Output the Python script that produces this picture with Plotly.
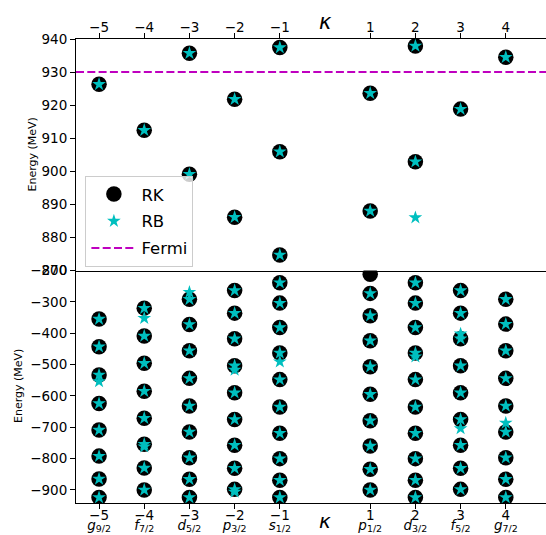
import plotly.graph_objects as go

# ---------------- data ----------------
KAPPAS = [-5, -4, -3, -2, -1, 1, 2, 3, 4]
KAPPA_LABELS = ["−5", "−4", "−3", "−2", "−1", "1", "2", "3", "4"]
ORBITAL_LABELS = ["<i>g</i><sub>9/2</sub>", "<i>f</i><sub>7/2</sub>", "<i>d</i><sub>5/2</sub>",
                  "<i>p</i><sub>3/2</sub>", "<i>s</i><sub>1/2</sub>", "<i>p</i><sub>1/2</sub>",
                  "<i>d</i><sub>3/2</sub>", "<i>f</i><sub>5/2</sub>", "<i>g</i><sub>7/2</sub>"]

RK_POSITIVE = [[926.3], [912.4], [935.7, 899.1], [921.8, 886.1], [937.4, 905.9, 874.7],
               [923.6, 888.0], [937.9, 902.9], [918.8], [934.5]]
RB_POSITIVE = [[926.3], [912.4], [935.7, 899.1], [921.8, 886.1], [937.4, 905.9, 874.7],
               [923.6, 888.0], [937.9, 902.9, 886.0], [918.8], [934.5]]

RK_NEGATIVE = [
    [-355, -443, -533, -624, -709, -792, -865, -924],
    [-320, -409, -496, -585, -671, -754, -830, -900],
    [-292, -372, -456, -544, -632, -715, -797, -866, -924],
    [-264, -336, -418, -504, -590, -675, -757, -831, -898],
    [-239, -304, -382, -463, -548, -635, -719, -800, -869, -924],
    [-212, -273, -344, -424, -507, -595, -679, -760, -834, -900],
    [-239, -304, -382, -463, -548, -635, -719, -800, -869, -924],
    [-264, -336, -418, -504, -590, -675, -757, -831, -898],
    [-292, -371, -456, -544, -632, -715, -797, -866, -924],
]
RB_NEGATIVE = [
    [-355, -443, -533, -554, -624, -709, -792, -865, -924],
    [-320, -352, -409, -496, -585, -671, -754, -762, -830, -900],
    [-269, -292, -372, -456, -544, -632, -715, -797, -866, -924],
    [-264, -336, -418, -504, -517, -590, -675, -757, -831, -898, -906],
    [-239, -304, -382, -463, -491, -548, -635, -719, -800, -869, -924],
    [-273, -344, -424, -507, -595, -679, -760, -834, -900],
    [-239, -304, -382, -463, -475, -548, -635, -719, -800, -869, -924],
    [-264, -336, -402, -418, -504, -590, -675, -704, -757, -831, -898],
    [-292, -371, -456, -544, -632, -686, -715, -797, -866, -924],
]

FERMI = 930.0
TOP_TICKS = [870, 880, 890, 900, 910, 920, 930, 940]
BOTTOM_TICKS = [-900, -800, -700, -600, -500, -400, -300, -200]


def flatten(levels):
    xs, ys = [], []
    for k, es in zip(KAPPAS, levels):
        for e in es:
            xs.append(k)
            ys.append(e)
    return xs, ys


# ---------------- styling ----------------
W, H = 546, 535
ML, MR, MT, MB = 76, 0, 39, 32
PW = W - ML - MR
PH = H - MT - MB
SPLIT = 232.5 / PH
XR = [-5.51, 4.89]
FONT = "DejaVu Sans"
BLACK_SIZE = 15.5
STAR_SIZE = 10.3
CYAN = "#00bfbf"
MAGENTA = "#bf00bf"

fig = go.Figure()

rk_tx, rk_ty = flatten(RK_POSITIVE)
rb_tx, rb_ty = flatten(RB_POSITIVE)
rk_bx, rk_by = flatten(RK_NEGATIVE)
rb_bx, rb_by = flatten(RB_NEGATIVE)

fig.add_trace(go.Scatter(x=rk_tx, y=rk_ty, mode="markers", name="RK", legendgroup="RK",
                         marker=dict(symbol="circle", size=BLACK_SIZE, color="black"),
                         xaxis="x2", yaxis="y2"))
fig.add_trace(go.Scatter(x=rb_tx, y=rb_ty, mode="markers", name="RB", legendgroup="RB",
                         marker=dict(symbol="star", size=STAR_SIZE, color=CYAN),
                         xaxis="x2", yaxis="y2"))
fig.add_trace(go.Scatter(x=XR, y=[FERMI, FERMI], mode="lines", name="Fermi",
                         legendgroup="Fermi",
                         line=dict(color=MAGENTA, width=2, dash="8px,3.3px"),
                         xaxis="x2", yaxis="y2"))
fig.add_trace(go.Scatter(x=rk_bx, y=rk_by, mode="markers", name="RK", legendgroup="RK",
                         showlegend=False,
                         marker=dict(symbol="circle", size=BLACK_SIZE, color="black"),
                         xaxis="x", yaxis="y"))
# RB (negative) lives on the overlaying axis x3, so it is drawn above the RK circles
fig.add_trace(go.Scatter(x=rb_bx, y=rb_by, mode="markers", name="RB", legendgroup="RB",
                         showlegend=False,
                         marker=dict(symbol="star", size=STAR_SIZE, color=CYAN),
                         xaxis="x3", yaxis="y"))

axis_common = dict(showgrid=False, zeroline=False, showline=True, linecolor="black",
                   linewidth=1.1, ticks="outside", ticklen=5, tickwidth=1.1,
                   tickcolor="black", tickfont=dict(family=FONT, size=13.5, color="black"))

fig.update_layout(
    width=W, height=H,
    margin=dict(l=ML, r=MR, t=MT, b=MB),
    paper_bgcolor="white", plot_bgcolor="white",
    font=dict(family=FONT, color="black"),
    xaxis=dict(range=XR, anchor="y", side="bottom", tickmode="array",
               tickvals=KAPPAS, ticktext=KAPPA_LABELS, ticklabelstandoff=-5, **axis_common),
    xaxis3=dict(range=XR, anchor="y", overlaying="x", side="bottom", tickmode="array",
                tickvals=KAPPAS, ticktext=ORBITAL_LABELS, showgrid=False, zeroline=False,
                showline=False, ticks="", ticklabelstandoff=12,
                tickfont=dict(family=FONT, size=13.5, color="black")),
    xaxis2=dict(range=XR, anchor="y2", side="top", mirror=True, tickmode="array",
                tickvals=KAPPAS, ticktext=KAPPA_LABELS, ticklabelstandoff=-4, **axis_common),
    yaxis=dict(range=[-941.5, -200], domain=[0, SPLIT], anchor="x", tickmode="array",
               tickvals=BOTTOM_TICKS, **axis_common),
    yaxis2=dict(range=[870, 940], domain=[SPLIT, 1], anchor="x2", tickmode="array",
                tickvals=TOP_TICKS, **axis_common),
    legend=dict(x=0.02, y=0.705, xanchor="left", yanchor="top", tracegroupgap=2.5,
                itemwidth=45,
                bgcolor="rgba(255,255,255,0.8)", bordercolor="#cccccc", borderwidth=1,
                font=dict(family=FONT, size=16.5, color="black")),
    showlegend=True,
)


def py(pixel_y):
    return (H - MB - pixel_y) / PH


def px(pixel_x):
    return (pixel_x - ML) / PW


fig.add_annotation(text="Energy (MeV)", textangle=-90, x=px(31.5), y=py(155),
                   xref="paper", yref="paper", showarrow=False, xanchor="center",
                   yanchor="middle", font=dict(family=FONT, size=11, color="black"))
fig.add_annotation(text="Energy (MeV)", textangle=-90, x=px(18.5), y=py(386.5),
                   xref="paper", yref="paper", showarrow=False, xanchor="center",
                   yanchor="middle", font=dict(family=FONT, size=11, color="black"))
fig.add_annotation(text="<i>κ</i>", x=0, y=py(22.5), xref="x", yref="paper", showarrow=False,
                   xanchor="center", yanchor="middle",
                   font=dict(family=FONT, size=21, color="black"))
fig.add_annotation(text="<i>κ</i>", x=0, y=py(534.5), xref="x", yref="paper", showarrow=False,
                   xanchor="center", yanchor="bottom",
                   font=dict(family=FONT, size=20, color="black"))

fig.write_html("out.html")
